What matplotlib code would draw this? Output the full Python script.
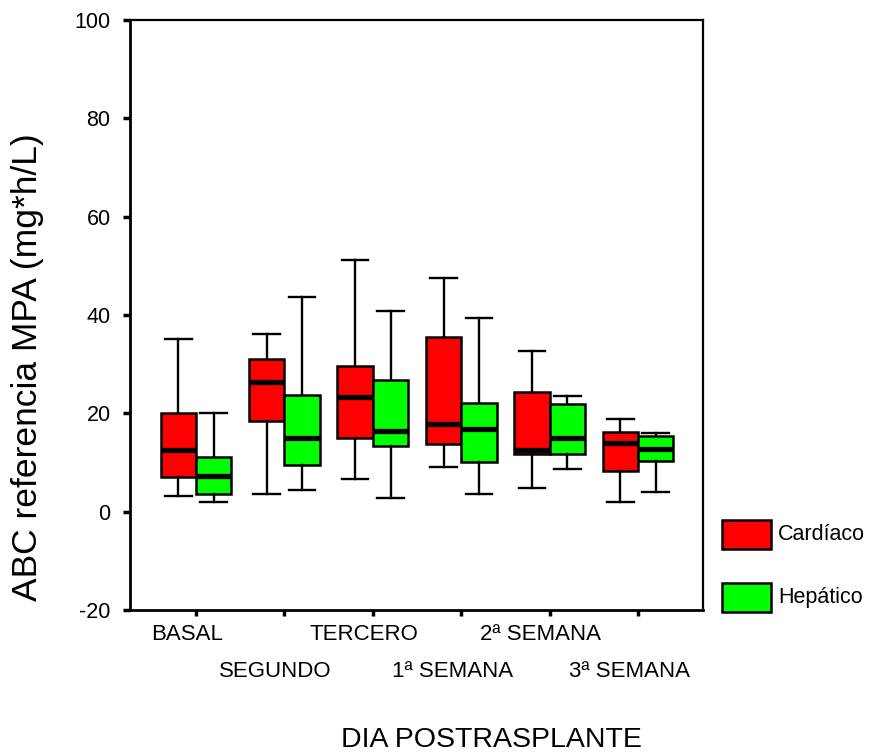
import numpy as np
import matplotlib.pyplot as plt
from matplotlib.patches import Rectangle

plt.rcParams['font.family'] = ['Liberation Sans', 'DejaVu Sans']
plt.rcParams['axes.unicode_minus'] = False

dias = ["BASAL", "SEGUNDO", "TERCERO", "1ª SEMANA", "2ª SEMANA", "3ª SEMANA"]

# resumen de cajas: bigote inferior, Q1, mediana, Q3, bigote superior
card_lo = [3.2, 3.6, 6.6, 9.1, 4.9, 1.9]
card_q1 = [7.0, 18.4, 15.0, 13.7, 11.7, 8.3]
card_med = [12.6, 26.3, 23.3, 17.8, 12.6, 14.0]
card_q3 = [20.1, 31.0, 29.7, 35.6, 24.3, 16.2]
card_hi = [35.1, 36.1, 51.2, 47.5, 32.7, 18.8]

hep_lo = [1.9, 4.5, 2.8, 3.6, 8.6, 4.1]
hep_q1 = [3.6, 9.5, 13.4, 10.1, 11.7, 10.4]
hep_med = [7.2, 14.9, 16.5, 16.9, 14.9, 12.8]
hep_q3 = [11.2, 23.8, 26.8, 22.1, 21.8, 15.3]
hep_hi = [20.1, 43.6, 40.8, 39.4, 23.5, 15.9]

grupos = ["Cardíaco", "Hepático"]
colores = ["#ff0000", "#00ff00"]


def stats(lo, q1, med, q3, hi):
    return [dict(whislo=a, q1=b, med=c, q3=d, whishi=e, fliers=[])
            for a, b, c, d, e in zip(lo, q1, med, q3, hi)]


fig = plt.figure(figsize=(8.72, 7.53), dpi=100)
ax = fig.add_axes([130 / 872, 1 - 610 / 753, 573 / 872, 590 / 753])

x = np.arange(1, len(dias) + 1)
w = 0.4
common = dict(widths=w, capwidths=0.3, patch_artist=True, showfliers=False,
              medianprops=dict(color="black", lw=3.8, solid_capstyle="butt"),
              whiskerprops=dict(color="black", lw=1.7),
              capprops=dict(color="black", lw=1.7))
ax.bxp(stats(card_lo, card_q1, card_med, card_q3, card_hi), positions=x - w / 2,
       boxprops=dict(facecolor=colores[0], edgecolor="black", lw=1.8), **common)
ax.bxp(stats(hep_lo, hep_q1, hep_med, hep_q3, hep_hi), positions=x + w / 2,
       boxprops=dict(facecolor=colores[1], edgecolor="black", lw=1.8), **common)

ax.set_xlim(0.253, 6.735)
ax.set_ylim(-20, 100)
ax.set_yticks([-20, 0, 20, 40, 60, 80, 100])
ax.tick_params(axis="y", direction="out", length=5, width=2.5, labelsize=15.5, pad=9)

# marcas en cada día; los textos van en ticks menores algo desplazados y en dos filas
ax.set_xticks(x)
ax.set_xticklabels([])
ax.tick_params(axis="x", which="major", direction="out", length=4, width=2.5)
ax.set_xticks(x - 0.1, minor=True)
ax.set_xticklabels(dias, minor=True)
ax.tick_params(axis="x", which="minor", length=0, labelsize=16, pad=10)
for i, lab in enumerate(ax.get_xticklabels(minor=True)):
    if i % 2 == 1:
        lab.set_y(-0.063)

for side in ["left", "bottom"]:
    ax.spines[side].set_linewidth(2)
for side in ["top", "right"]:
    ax.spines[side].set_linewidth(1.6)

fig.text(28 / 872, 1 - 367 / 753, "ABC referencia MPA (mg*h/L)", fontsize=25.5,
         rotation=90, ha="center", va="center")
fig.text(491 / 872, 1 - 740 / 753, "DIA POSTRASPLANTE", fontsize=20.5,
         ha="center", va="center")

# leyenda
for k, (g, c) in enumerate(zip(grupos, colores)):
    y0 = 1 - (549 + 63 * k) / 753
    fig.add_artist(Rectangle((722 / 872, y0), 49 / 872, 29 / 753, transform=fig.transFigure,
                             facecolor=c, edgecolor="black", lw=1.8))
    fig.text(778 / 872, y0 + 14.5 / 753, g, fontsize=15.5, ha="left", va="center")

fig.savefig("out.png", dpi=100)
